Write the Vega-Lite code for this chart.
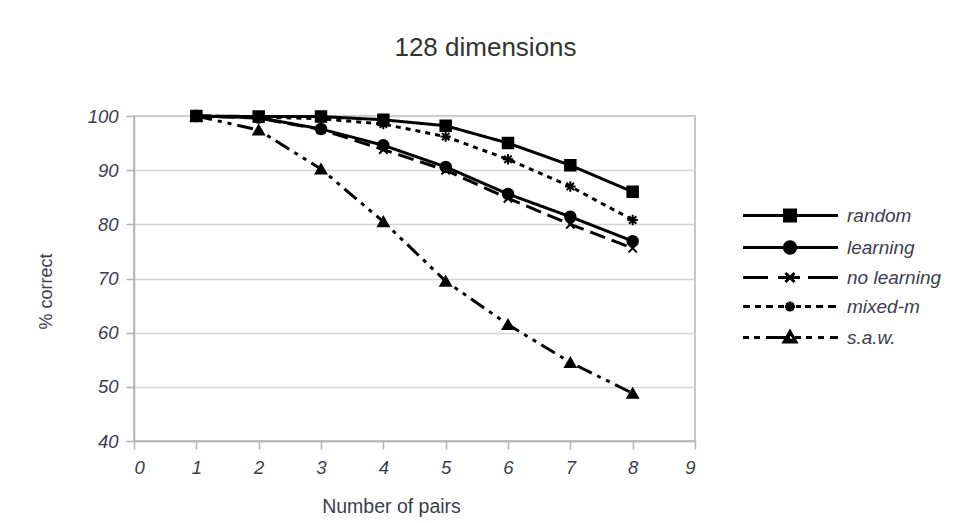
{
  "$schema": "https://vega.github.io/schema/vega-lite/v6.json",
  "width": 561,
  "height": 325,
  "autosize": {"type": "none"},
  "padding": {"left": 134, "top": 116, "right": 258, "bottom": 82},
  "background": "white",
  "config": {
    "font": "Liberation Sans",
    "view": {"stroke": "#b3b3b3", "strokeWidth": 1.5}
  },
  "title": {
    "text": "128 dimensions",
    "fontSize": 26,
    "fontWeight": "normal",
    "color": "#333333",
    "font": "Liberation Sans",
    "anchor": "middle",
    "dx": 71,
    "offset": 46
  },
  "data": {
    "values": [
      {"pairs": 1, "pct": 100, "series": "random"},
      {"pairs": 2, "pct": 99.9, "series": "random"},
      {"pairs": 3, "pct": 99.9, "series": "random"},
      {"pairs": 4, "pct": 99.3, "series": "random"},
      {"pairs": 5, "pct": 98.2, "series": "random"},
      {"pairs": 6, "pct": 95.0, "series": "random"},
      {"pairs": 7, "pct": 90.9, "series": "random"},
      {"pairs": 8, "pct": 86.0, "series": "random"},
      {"pairs": 1, "pct": 100, "series": "learning"},
      {"pairs": 2, "pct": 99.7, "series": "learning"},
      {"pairs": 3, "pct": 97.6, "series": "learning"},
      {"pairs": 4, "pct": 94.6, "series": "learning"},
      {"pairs": 5, "pct": 90.6, "series": "learning"},
      {"pairs": 6, "pct": 85.6, "series": "learning"},
      {"pairs": 7, "pct": 81.4, "series": "learning"},
      {"pairs": 8, "pct": 76.9, "series": "learning"},
      {"pairs": 1, "pct": 100, "series": "no learning"},
      {"pairs": 2, "pct": 99.6, "series": "no learning"},
      {"pairs": 3, "pct": 97.5, "series": "no learning"},
      {"pairs": 4, "pct": 93.8, "series": "no learning"},
      {"pairs": 5, "pct": 90.0, "series": "no learning"},
      {"pairs": 6, "pct": 84.8, "series": "no learning"},
      {"pairs": 7, "pct": 80.0, "series": "no learning"},
      {"pairs": 8, "pct": 75.6, "series": "no learning"},
      {"pairs": 1, "pct": 100, "series": "mixed-m"},
      {"pairs": 2, "pct": 99.8, "series": "mixed-m"},
      {"pairs": 3, "pct": 99.5, "series": "mixed-m"},
      {"pairs": 4, "pct": 98.5, "series": "mixed-m"},
      {"pairs": 5, "pct": 96.2, "series": "mixed-m"},
      {"pairs": 6, "pct": 92.0, "series": "mixed-m"},
      {"pairs": 7, "pct": 87.0, "series": "mixed-m"},
      {"pairs": 8, "pct": 80.8, "series": "mixed-m"},
      {"pairs": 1, "pct": 100, "series": "s.a.w."},
      {"pairs": 2, "pct": 97.4, "series": "s.a.w."},
      {"pairs": 3, "pct": 90.2, "series": "s.a.w."},
      {"pairs": 4, "pct": 80.5, "series": "s.a.w."},
      {"pairs": 5, "pct": 69.5, "series": "s.a.w."},
      {"pairs": 6, "pct": 61.5, "series": "s.a.w."},
      {"pairs": 7, "pct": 54.5, "series": "s.a.w."},
      {"pairs": 8, "pct": 48.8, "series": "s.a.w."}
    ]
  },
  "encoding": {
    "x": {
      "field": "pairs",
      "type": "quantitative",
      "scale": {"domain": [0, 9], "nice": false, "zero": false},
      "axis": {
        "title": "Number of pairs",
        "values": [0, 1, 2, 3, 4, 5, 6, 7, 8, 9],
        "grid": false,
        "domainColor": "#b3b3b3",
        "domainWidth": 1.5,
        "tickColor": "#b3b3b3",
        "tickWidth": 1.5,
        "tickSize": 8,
        "labelPadding": 9,
        "labelFontSize": 18.5,
        "labelFontStyle": "italic",
        "labelColor": "#3d3d4d",
        "labelFont": "Liberation Sans",
        "titleFontSize": 19.5,
        "titleFontWeight": "normal",
        "titleColor": "#3d3d4d",
        "titleFont": "Liberation Sans",
        "titleX": 257,
        "titleY": 65,
        "titleBaseline": "middle"
      }
    },
    "y": {
      "field": "pct",
      "type": "quantitative",
      "scale": {"domain": [40, 100], "nice": false, "zero": false},
      "axis": {
        "title": "% correct",
        "values": [40, 50, 60, 70, 80, 90, 100],
        "grid": true,
        "gridColor": "#d4d4d4",
        "gridWidth": 1.5,
        "domainColor": "#b3b3b3",
        "domainWidth": 1.5,
        "tickColor": "#b3b3b3",
        "tickWidth": 1.5,
        "tickSize": 8,
        "labelPadding": 8,
        "labelFontSize": 18.5,
        "labelFontStyle": "italic",
        "labelColor": "#3d3d4d",
        "labelFont": "Liberation Sans",
        "titleFontSize": 18,
        "titleFontWeight": "normal",
        "titleColor": "#3d3d4d",
        "titleFont": "Liberation Sans",
        "titleX": -87.5,
        "titleY": 175,
        "titleBaseline": "middle",
        "titleAngle": -90
      }
    }
  },
  "layer": [
    {
      "mark": {"type": "line", "color": "black", "strokeWidth": 3},
      "encoding": {
        "strokeDash": {
          "field": "series",
          "type": "nominal",
          "scale": {
            "domain": ["random", "learning", "no learning", "mixed-m", "s.a.w."],
            "range": [[1, 0], [1, 0], [16, 7], [5, 5], [16, 6, 4, 6, 4, 6]]
          },
          "legend": null
        }
      }
    },
    {
      "mark": {"type": "point", "filled": true, "color": "black", "stroke": "black", "strokeWidth": 2, "opacity": 1, "size": 110},
      "encoding": {
        "shape": {
          "field": "series",
          "type": "nominal",
          "scale": {
            "domain": ["random", "learning", "no learning", "mixed-m", "s.a.w."],
            "range": [
              "square",
              "circle",
              "M-0.8,-0.8L0.8,0.8M-0.8,0.8L0.8,-0.8",
              "M-1,0L1,0M0,-1L0,1M-0.7,-0.7L0.7,0.7M-0.7,0.7L0.7,-0.7",
              "triangle-up"
            ]
          },
          "legend": null
        }
      }
    },
    {
      "transform": [{"filter": "false"}],
      "mark": {"type": "point", "filled": false, "color": "black", "strokeWidth": 3},
      "encoding": {
        "shape": {
          "field": "series",
          "type": "nominal",
          "scale": {
            "domain": ["random", "learning", "no learning", "mixed-m", "s.a.w."],
            "range": [
              "M-1.25,0H14.583M5.667,-0.917H7.5V0.917H5.667ZM5.667,-0.45H7.5M5.667,0.45H7.5",
              "M-1.25,0H14.583M7.5,0A0.917,0.917 0 1,1 5.667,0A0.917,0.917 0 1,1 7.5,0ZM7.083,0A0.5,0.5 0 1,1 6.083,0A0.5,0.5 0 1,1 7.083,0Z",
              "M-1.25,0H2.917M4.583,0H8.25M9.583,0H14.583M5.833,-0.75L7.333,0.75M5.833,0.75L7.333,-0.75",
              "M-1.25,0H-0.083M0.75,0H1.75M2.583,0H3.75M4.583,0H5.583M7.583,0H8.417M9.083,0H10.083M10.917,0H12.083M12.917,0H14.25M5.75,0H7.417M6.583,-0.833V0.833M5.994,-0.589L7.172,0.589M5.994,0.589L7.172,-0.589",
              "M-1.25,0H-0.25M0.583,0H1.583M2.583,0H6.583M7.417,0H8.417M9.25,0H10.25M11.25,0H12.25M13.25,0H14.583M6.583,-1.0L7.583,0.75H5.583ZM6.27,-0.45H6.9M5.75,0.45H7.41"
            ]
          },
          "legend": {
            "title": null,
            "orient": "none",
            "legendX": 607,
            "legendY": 90,
            "symbolSize": 144,
            "symbolStrokeWidth": 3,
            "symbolStrokeColor": "black",
            "symbolOpacity": 1,
            "labelOffset": 87,
            "labelFontSize": 19,
            "labelFontStyle": "italic",
            "labelColor": "#3d3d4d",
            "labelFont": "Liberation Sans",
            "rowPadding": 7
          }
        }
      }
    }
  ],
  "resolve": {"scale": {"shape": "independent"}, "legend": {"shape": "independent"}}
}
